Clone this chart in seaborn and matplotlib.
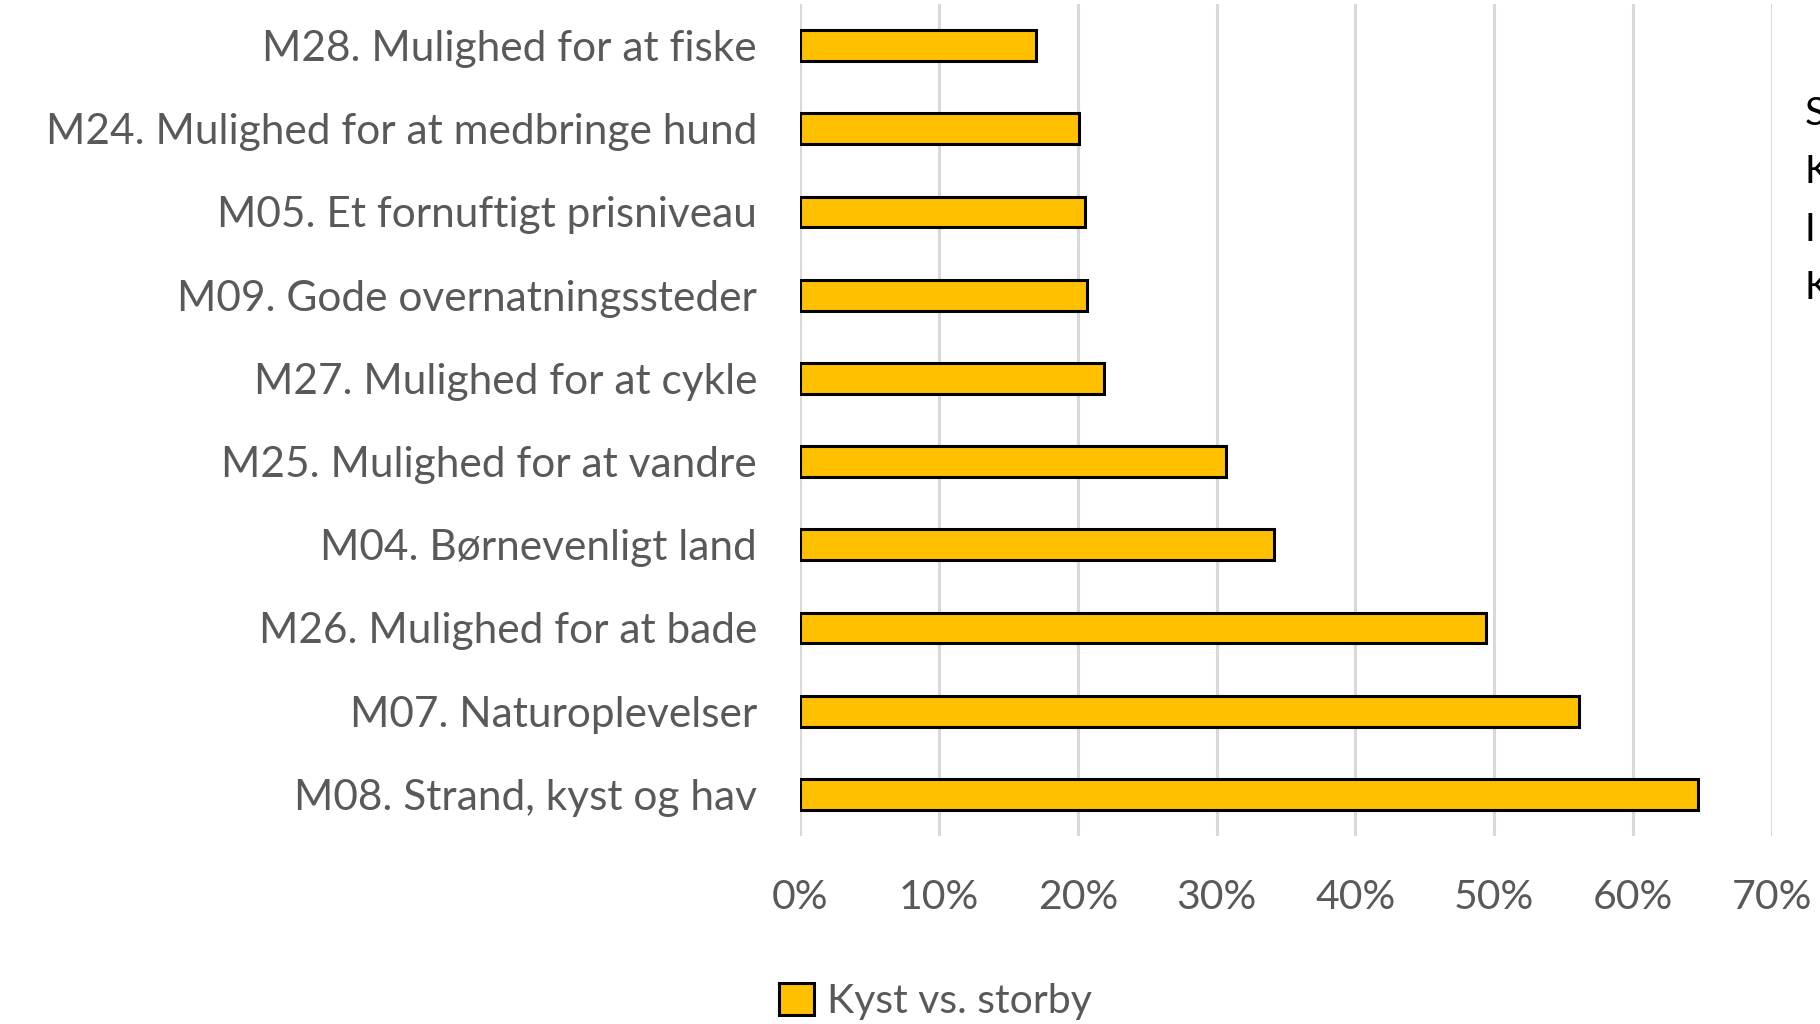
import matplotlib
matplotlib.use("Agg")
import matplotlib.pyplot as plt
import seaborn as sns
import pandas as pd

# Values (share of respondents)
labels = [
    "M28. Mulighed for at fiske",
    "M24. Mulighed for at medbringe hund",
    "M05. Et fornuftigt prisniveau",
    "M09. Gode overnatningssteder",
    "M27. Mulighed for at cykle",
    "M25. Mulighed for at vandre",
    "M04. Børnevenligt land",
    "M26. Mulighed for at bade",
    "M07. Naturoplevelser",
    "M08. Strand, kyst og hav",
]
values = [0.170, 0.201, 0.205, 0.207, 0.219, 0.307, 0.341, 0.494, 0.561, 0.647]
series_name = "Kyst vs. storby"
x_ticks = [0, 0.1, 0.2, 0.3, 0.4, 0.5, 0.6, 0.7]
x_ticklabels = ["0%", "10%", "20%", "30%", "40%", "50%", "60%", "70%"]
side_letters = ["S", "K", "I", "K"]

df = pd.DataFrame({"item": labels, "share": values})

sns.set_style("white")
plt.rcParams["font.family"] = ["Lato", "DejaVu Sans"]
text_grey = "#595959"

fig = plt.figure(figsize=(18.2, 10.24), dpi=100)
ax = fig.add_axes([0.4396, 0.1836, 0.534, 0.8125])

sns.barplot(data=df, x="share", y="item", orient="h", color="#FFC000",
            edgecolor="black", linewidth=2.2, width=0.37, saturation=1,
            label=series_name, ax=ax, zorder=3)

ax.set_xlim(0, 0.7)
ax.set_ylim(9.5, -0.5)
ax.set_xticks(x_ticks)
ax.set_xticklabels(x_ticklabels)
ax.set_xlabel("")
ax.set_ylabel("")
ax.grid(axis="x", color="#D9D9D9", linewidth=2.2, zorder=0)
ax.grid(axis="y", visible=False)
for s in ax.spines.values():
    s.set_visible(False)
ax.tick_params(axis="x", length=0, pad=31, labelsize=29.5, labelcolor=text_grey)
ax.tick_params(axis="y", length=0, pad=31, labelsize=30.5, labelcolor=text_grey)

leg = ax.legend(loc="center", bbox_to_anchor=(0.514, 0.022), bbox_transform=fig.transFigure,
                frameon=False, fontsize=29.5, handlelength=0.85, handleheight=0.85,
                handletextpad=0.3, labelcolor=text_grey)

for i, letter in enumerate(side_letters):
    fig.text(1805 / 1820, 1 - (114 + 58 * i) / 1024, letter, fontsize=28,
             color="black", va="center", ha="left")

fig.savefig("out.png", dpi=100)
